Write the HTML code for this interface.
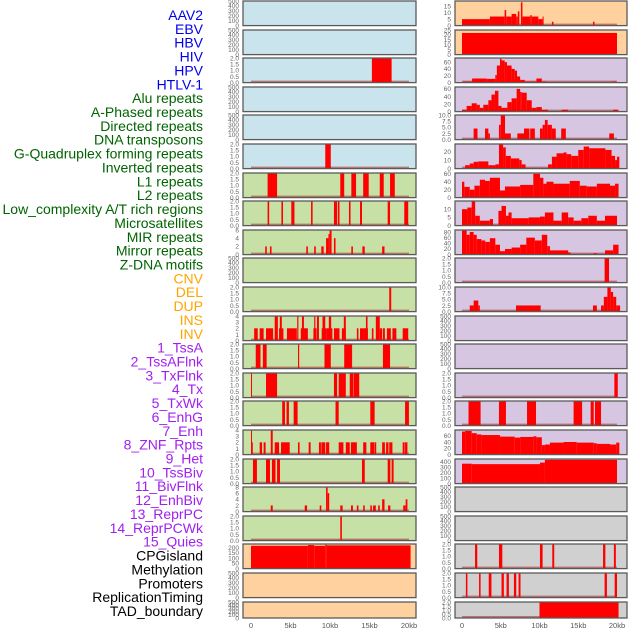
<!DOCTYPE html>
<html><head><meta charset="utf-8"><style>
body{margin:0;background:#fff;}
svg{display:block;font-family:"Liberation Sans",sans-serif;}
</style></head><body>
<svg id="chart" width="630" height="630"></svg>
<script>
const trackLabels=["AAV2","EBV","HBV","HIV","HPV","HTLV-1","Alu repeats","A-Phased repeats","Directed repeats","DNA transposons","G-Quadruplex forming repeats","Inverted repeats","L1 repeats","L2 repeats","Low_complexity A/T rich regions","Microsatellites","MIR repeats","Mirror repeats","Z-DNA motifs","CNV","DEL","DUP","INS","INV","1_TssA","2_TssAFlnk","3_TxFlnk","4_Tx","5_TxWk","6_EnhG","7_Enh","8_ZNF_Rpts","9_Het","10_TssBiv","11_BivFlnk","12_EnhBiv","13_ReprPC","14_ReprPCWk","15_Quies","CPGisland","Methylation","Promoters","ReplicationTiming","TAD_boundary"];
const labelGroups=[6,13,5,15,5];
const xTickLabels=["0","5kb","10kb","15kb","20kb"];
const xTickValues=[0,5,10,15,20];
const leftBg=["b","b","b","b","b","b","g","g","g","g","g","g","g","g","g","g","g","g","g","p","p","p"];
const rightBg=["p","p","u","u","u","u","u","u","u","u","u","u","u","u","u","u","u","q","q","q","q","q"];
const leftYmax=[500,500,2,500,500,2,2,2,6,500,2,4,2,2,2,4,2,8,2,235,500,500];
const rightYmax=[19,25,72,65,10,29,62,15,87,2,10,500,500,2,2,78,445,500,500,2,2,2];
const leftSeries=[
[],[],[[15.3,17.8,2]],[],[],[[9.4,10.1,2]],
[[2.1,3.3,2],[11.3,11.8,2],[12.7,13.3,2],[14.2,14.9,2],[16.3,16.8,2],[17.6,18.2,2]],
[[2.1,2.3,2],[3.85,4.05,2],[5.1,5.5,2],[7.6,7.8,2],[10.5,10.9,2],[11.0,11.2,2],[12.4,12.6,2],[13.8,14.05,2],[17.3,17.6,2],[19.4,19.9,2]],
[[1.8,2.0,2],[2.4,2.6,2],[7.0,7.2,2],[8.0,8.2,2],[8.9,9.2,2],[9.5,9.8,4],[9.8,9.95,5],[9.95,10.2,6],[10.5,10.7,4],[12.7,12.9,2],[14.1,14.4,2],[16.6,16.9,2]],
[],
[[17.5,17.75,2]],
[[0.4,0.85,2],[1.1,1.6,2],[1.9,2.8,2],[3.0,3.4,4],[3.55,4.1,2],[3.65,3.9,4],[4.55,5.8,2],[5.85,6.0,4],[6.3,7.2,2],[6.45,6.7,4],[7.9,8.3,2],[8.0,8.15,4],[8.35,8.6,4],[8.95,9.6,2],[9.05,9.4,4],[9.6,10.3,2],[9.85,10.15,4],[10.5,11.2,2],[11.5,12.0,2],[11.75,12.0,4],[13.4,13.6,2],[13.8,14.3,2],[14.3,14.8,2],[14.55,14.75,4],[15.3,15.5,2],[15.8,16.3,4],[16.3,16.6,2],[16.7,16.95,2],[17.2,17.7,2],[17.9,18.4,2],[19.2,19.9,2]],
[[0.6,1.2,2],[1.5,1.98,2],[5.95,6.1,2],[9.3,10.1,2],[11.8,12.8,2],[16.7,17.6,2]],
[[0,0.12,2],[1.9,3.3,2],[10.5,10.9,2],[11.1,12.0,2],[12.5,12.95,2],[13.0,13.7,2]],
[[3.95,4.3,2],[4.5,4.8,2],[5.4,5.9,2],[10.7,11.1,2],[15.1,15.65,2],[19.5,19.99,2]],
[[0,0.1,4],[0.1,0.2,2],[1.1,1.4,2],[1.6,1.85,2],[2.5,2.75,4],[3.0,3.55,2],[3.8,4.9,2],[5.95,6.15,2],[7.3,7.55,2],[8.6,8.85,2],[8.9,9.4,2],[9.5,9.9,2],[11.1,11.7,2],[12.0,12.5,2],[12.65,13.4,2],[14.2,14.6,2],[15.1,15.6,2],[15.65,15.85,2],[16.6,16.95,2],[17.1,17.4,2],[17.5,17.9,2],[19.2,19.45,2],[19.5,19.8,2]],
[[0.25,0.75,2],[1.9,2.4,2],[2.65,3.1,2],[3.3,3.67,2],[14.05,14.4,2],[17.3,17.64,2],[17.8,18.05,2]],
[[2.5,2.75,2],[6.8,7.1,2],[8.7,8.9,2],[9.5,9.7,8],[9.7,9.9,6],[11.3,11.6,2],[12.66,12.9,2],[13.4,13.6,2],[14.2,14.4,2],[15.1,15.3,2],[15.45,15.8,2],[16.1,16.3,2],[16.6,16.9,4],[17.35,17.64,2],[19.27,19.58,2],[19.58,19.8,4]],
[[11.3,11.5,2]],
[[0,7.2,218],[7.2,8.0,225],[8.0,9.4,218],[9.4,9.6,228],[9.6,20.2,222]],
[],[]
];
const rightSeries=[
[[0,3.6,5],[3.6,5.5,7],[5.5,5.7,12],[5.7,6.4,7],[6.4,7.0,9],[7.0,7.2,7],[7.2,7.4,11],[7.6,7.8,18],[7.8,8.8,7],[8.8,9.0,8],[9.0,9.85,7],[9.85,10.4,5],[10.4,10.5,7],[11.6,11.8,3],[16.9,17.1,3]],
[[0,20,22]],
[[0.2,1.3,3],[1.3,3.2,12],[3.2,4.3,11],[4.3,4.5,22],[4.5,4.9,50],[4.9,5.1,70],[5.1,5.5,65],[5.5,5.8,60],[5.8,6.4,50],[6.4,6.8,40],[6.8,7.1,35],[7.1,7.5,18],[7.5,8.1,8],[8.1,9.6,3],[9.6,10.3,12],[10.3,10.9,3],[19.4,19.9,3]],
[[0,0.6,5],[0.6,1.25,15],[1.25,1.9,22],[1.9,2.3,18],[2.3,2.75,10],[2.75,3.4,18],[3.4,3.8,30],[3.8,4.25,45],[4.25,4.7,55],[4.7,5.1,15],[5.1,5.85,10],[5.85,6.4,25],[6.4,7.05,35],[7.05,7.5,60],[7.5,7.7,52],[7.7,8.35,50],[8.35,9.0,30],[9.0,9.6,10],[9.6,10.3,12],[10.3,11.1,5],[12.86,13.7,5],[19.5,20.2,5]],
[[1.5,2.0,4.5],[2.97,3.4,4.5],[3.4,3.6,2.5],[4.77,5.0,6],[5.0,5.55,10],[5.55,6.3,2.5],[7.14,8.0,2.5],[8.0,8.7,4.5],[8.8,9.4,4.5],[10.06,10.4,4.5],[10.4,10.7,6],[10.7,11.05,8],[11.05,11.6,6],[11.6,12.1,4.5],[12.8,13.4,4.5],[19.0,19.6,2.5]],
[[0.4,1.0,4],[1.0,1.5,6],[1.5,2.1,8],[2.1,3.4,8.5],[3.4,4.3,4],[4.3,4.77,5],[4.77,5.3,29],[5.3,5.65,25],[5.65,6.3,15],[6.3,7.4,12],[7.4,7.7,10],[7.7,8.2,5],[11.1,11.6,5],[11.6,12.2,14],[12.2,13.1,18],[13.1,13.5,19],[13.5,14.1,17],[14.1,15.0,15],[15.0,15.7,22],[15.7,16.4,26],[16.4,18.5,24],[18.5,19.3,22],[19.3,19.75,15],[19.75,20.0,10],[20.0,20.3,14]],
[[0,0.3,40],[0.3,1.0,27],[1.0,1.6,20],[1.6,2.3,30],[2.3,2.97,45],[2.97,3.6,42],[3.6,4.9,50],[4.9,5.55,18],[5.55,7.5,28],[7.5,9.2,32],[9.2,10.06,60],[10.06,10.5,50],[10.5,10.9,35],[10.9,11.8,40],[11.8,13.9,35],[13.9,15.2,42],[15.2,16.1,30],[16.1,17.4,28],[17.4,19.1,35],[19.1,19.75,30],[19.75,20.2,35]],
[[0,0.7,10],[0.7,1.25,11],[1.25,1.7,15],[1.7,2.3,6],[2.3,3.6,3],[3.6,4.0,4],[4.7,5.1,9],[5.1,5.67,12],[5.67,6.0,6],[6.0,6.4,8],[6.4,8.6,4.5],[8.6,10.06,5],[10.06,10.7,5.5],[10.7,11.8,8],[11.8,12.86,3],[12.86,13.7,8],[13.7,14.4,5],[14.4,15.4,3],[15.4,16.3,4.5],[16.3,17.4,6],[17.4,18.45,3],[18.45,20.0,6]],
[[0,0.6,85],[0.6,1.0,70],[1.0,1.5,80],[1.5,1.9,70],[1.9,2.5,55],[2.5,3.0,50],[3.0,3.6,45],[3.6,4.3,58],[4.3,4.9,35],[4.9,5.55,12],[5.55,6.4,20],[6.4,7.5,25],[7.5,8.3,35],[8.3,9.4,60],[9.4,10.3,50],[10.3,11.0,70],[11.0,11.35,30],[11.35,13.7,15],[13.7,14.0,8],[17.0,17.4,5],[18.45,19.5,15],[19.5,20.2,35]],
[[18.4,18.97,2]],
[[1.0,1.5,2.5],[1.5,2.1,4.5],[2.1,2.3,2.5],[6.97,10.15,2.5],[16.9,17.4,2.5],[17.94,18.3,2.5],[18.3,18.76,6],[18.76,19.2,10],[19.2,19.5,8],[19.5,19.9,6],[19.9,20.4,2.5]],
[],[],
[[19.66,20.1,2]],
[[0.84,2.4,2],[4.77,5.67,2],[8.39,9.55,2],[14.4,15.5,2],[16.6,17.0,2],[17.16,17.94,2]],
[[0,0.4,73],[0.4,1.25,75],[1.25,1.9,68],[1.9,2.5,64],[2.5,4.9,62],[4.9,6.8,57],[6.8,7.5,54],[7.5,9.2,56],[9.2,9.6,58],[9.6,10.3,55],[10.3,10.7,30],[10.7,11.35,32],[11.35,13.1,38],[13.1,14.8,40],[14.8,17.0,38],[17.0,17.4,36],[17.4,19.1,34],[19.1,19.9,32],[19.9,20.3,38]],
[[0,1.25,360],[1.25,10.06,352],[10.06,10.7,380],[10.7,20.0,430]],
[],[],
[[1.68,1.97,2],[4.77,5.2,2],[10.06,10.4,2],[11.65,11.9,2],[18.2,18.5,2],[19.6,19.85,2]],
[[0.5,0.7,2],[2.2,2.4,2],[3.45,3.8,2],[5.1,5.4,2],[5.75,6.05,2],[6.7,7.0,2],[7.3,7.55,2],[18.4,18.7,2],[19.7,20.0,2]],
[[10.0,20.2,2]]
];
const tickSets={
500:[[0,"0"],[100,"100"],[200,"200"],[300,"300"],[400,"400"],[500,"500"]],
2:[[0,"0.0"],[0.5,"0.5"],[1,"1.0"],[1.5,"1.5"],[2,"2.0"]],
4:[[0,"0"],[1,"1"],[2,"2"],[3,"3"],[4,"4"]],
6:[[0,"0"],[2,"2"],[4,"4"],[6,"6"]],
8:[[0,"0"],[2,"2"],[4,"4"],[6,"6"],[8,"8"]],
235:[[0,"0"],[50,"50"],[100,"100"],[150,"150"],[200,"200"]],
19:[[0,"0"],[5,"5"],[10,"10"],[15,"15"]],
25:[[0,"0"],[5,"5"],[10,"10"],[15,"15"],[20,"20"],[25,"25"]],
72:[[0,"0"],[20,"20"],[40,"40"],[60,"60"]],
65:[[0,"0"],[20,"20"],[40,"40"],[60,"60"]],
62:[[0,"0"],[20,"20"],[40,"40"],[60,"60"]],
78:[[0,"0"],[20,"20"],[40,"40"],[60,"60"]],
10:[[0,"0.0"],[2.5,"2.5"],[5,"5.0"],[7.5,"7.5"],[10,"10.0"]],
29:[[0,"0"],[10,"10"],[20,"20"]],
15:[[0,"0"],[5,"5"],[10,"10"]],
87:[[0,"0"],[20,"20"],[40,"40"],[60,"60"],[80,"80"]],
445:[[0,"0"],[100,"100"],[200,"200"],[300,"300"],[400,"400"]]
};
const NS="http://www.w3.org/2000/svg";
const svg=document.getElementById('chart');
function mk(tag,attrs,parent){const e=document.createElementNS(NS,tag);for(const k in attrs)e.setAttribute(k,attrs[k]);(parent||svg).appendChild(e);return e;}
const bgColors={b:"#c9e4ec",g:"#c7e0a5",p:"#ffd19e",u:"#d6c6e2",q:"#d0d0d0"};
const labelColors=["#0000ee","#006400","#ffa500","#a020f0","#000000"];
let li=0;
labelGroups.forEach((n,gi)=>{for(let k=0;k<n;k++){const t=mk('text',{x:203,y:20+li*13.86,'text-anchor':'end','font-size':14,fill:labelColors[gi]});


t.textContent=trackLabels[li];li++;}});
function rowTop(i){return Math.round(i*28.6);}
function rowH(i){return i===21?16:24.6;}
function drawCol(series,ymaxes,bgs,px0,px1,x0,pxPerKb,colName){
  const xs=kb=>x0+kb*pxPerKb;
  series.forEach((segs,i)=>{
    const top=rowTop(i)+1,h=rowH(i),bot=top+h,ymax=ymaxes[i];
    const ys=v=>bot-v/ymax*h;
    const g=mk('g',{});
    
    
    const r=mk('rect',{x:px0,y:top,width:px1-px0,height:h,fill:bgColors[bgs[i]]},g);
    
    
    if(segs.length){
      const bl=mk('line',{x1:xs(0),x2:xs(20),y1:bot-1,y2:bot-1,stroke:"#a33",'stroke-width':2,opacity:0.6},g);
      
      
    }
    segs.forEach(s=>{
      const b=mk('rect',{x:xs(s[0]),y:ys(s[2]),width:Math.max(1,xs(s[1])-xs(s[0])),height:bot-ys(s[2]),fill:"#ff0000"},g);
      
      
    });
    const fr=mk('rect',{x:px0,y:top,width:px1-px0,height:h,fill:"none",stroke:"#5a5a5a",'stroke-width':1.3},g);
    
    
    (tickSets[ymax]||[]).forEach(t=>{
      const ty=ys(t[0]);
      const tx=mk('text',{x:px0-4,y:ty+2.3,'text-anchor':'end','font-size':6.5,fill:"#666"},g);
      
      
      tx.textContent=t[1];
    });
  });
  xTickValues.forEach((v,k)=>{
    const t=mk('text',{x:xs(v),y:628,'text-anchor':'middle','font-size':7.5,fill:"#555"});
    
    
    t.textContent=xTickLabels[k];
  });
}
drawCol(leftSeries,leftYmax,leftBg,243,416,251,7.9,'left');
drawCol(rightSeries,rightYmax,rightBg,455,627,462,7.75,'right');
</script>
</body></html>
